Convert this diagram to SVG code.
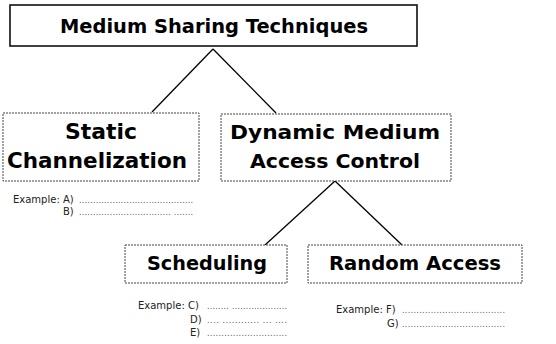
<svg xmlns="http://www.w3.org/2000/svg" width="556" height="344" viewBox="0 0 556 344">
  <style>
    .title { font-family: "DejaVu Sans", "Liberation Sans", sans-serif; font-weight: bold; fill: #000; text-anchor: middle; }
    .box { fill: #fff; stroke: #444; stroke-width: 1; stroke-dasharray: 2 1; }
    .root { fill: #fff; stroke: #111; stroke-width: 1.6; }
    .link { stroke: #000; stroke-width: 1.3; fill: none; }
    .ex { font-family: "DejaVu Sans", sans-serif; font-size: 10px; fill: #222; }
    .dots { font-family: "DejaVu Sans", sans-serif; font-size: 8px; fill: #555; }
  </style>
  <rect width="556" height="344" fill="#fff"/>

  <g id="connectors">
    <line class="link" x1="213" y1="49" x2="152" y2="112"/>
    <line class="link" x1="213" y1="49" x2="276" y2="113"/>
    <line class="link" x1="335" y1="181" x2="265" y2="245"/>
    <line class="link" x1="335" y1="181" x2="402" y2="245"/>
  </g>

  <g id="medium-sharing">
    <rect class="root" x="10" y="5" width="407" height="41"/>
    <text class="title" x="214" y="33" font-size="20" textLength="308" lengthAdjust="spacingAndGlyphs">Medium Sharing Techniques</text>
  </g>

  <g id="static-channelization">
    <rect class="box" x="3" y="113" width="196" height="68"/>
    <text class="title" x="101" y="139" font-size="21" textLength="72" lengthAdjust="spacingAndGlyphs">Static</text>
    <text class="title" x="97" y="168" font-size="21" textLength="180" lengthAdjust="spacingAndGlyphs">Channelization</text>
    <text class="ex" x="13" y="203">Example: A)</text>
    <text class="dots" x="79" y="203" textLength="114" lengthAdjust="spacing">.........................................</text>
    <text class="ex" x="63" y="215">B)</text>
    <text class="dots" x="79" y="215" textLength="114" lengthAdjust="spacing">................................. .......</text>
  </g>

  <g id="dynamic-mac">
    <rect class="box" x="221" y="114" width="230" height="67"/>
    <text class="title" x="335" y="139" font-size="20" textLength="210" lengthAdjust="spacingAndGlyphs">Dynamic Medium</text>
    <text class="title" x="335" y="168" font-size="20" textLength="170" lengthAdjust="spacingAndGlyphs">Access Control</text>
  </g>

  <g id="scheduling">
    <rect class="box" x="125" y="245" width="162" height="38"/>
    <text class="title" x="207" y="270" font-size="20" textLength="120" lengthAdjust="spacingAndGlyphs">Scheduling</text>
    <text class="ex" x="138" y="309">Example: C)</text>
    <text class="dots" x="207" y="309" textLength="80" lengthAdjust="spacing">........ ....................</text>
    <text class="ex" x="190" y="323">D)</text>
    <text class="dots" x="207" y="323" textLength="80" lengthAdjust="spacing">.... ............ ... ....</text>
    <text class="ex" x="190" y="336">E)</text>
    <text class="dots" x="207" y="336" textLength="80" lengthAdjust="spacing">............................</text>
  </g>

  <g id="random-access">
    <rect class="box" x="308" y="245" width="214" height="38"/>
    <text class="title" x="415" y="270" font-size="20" textLength="172" lengthAdjust="spacingAndGlyphs">Random Access</text>
    <text class="ex" x="336" y="313">Example: F)</text>
    <text class="dots" x="402" y="313" textLength="103" lengthAdjust="spacing">....................................</text>
    <text class="ex" x="387" y="327">G)</text>
    <text class="dots" x="402" y="327" textLength="103" lengthAdjust="spacing">....................................</text>
  </g>
</svg>
